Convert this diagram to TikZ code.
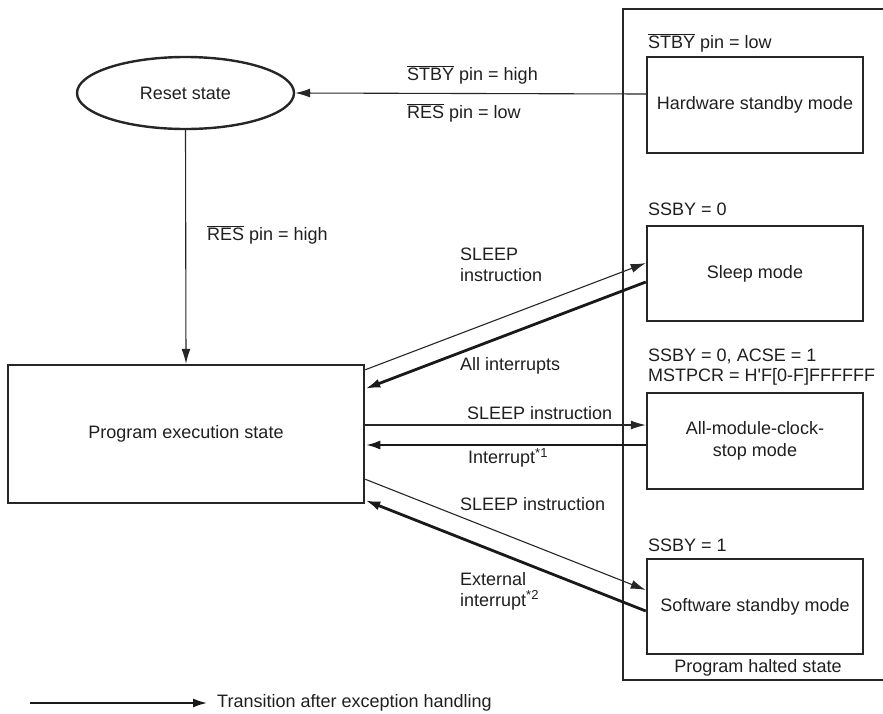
\documentclass[tikz,border=0pt]{standalone}
\usepackage{fontspec}
\setmainfont{Liberation Sans}
\usetikzlibrary{arrows.meta,shapes.geometric,calc}
\newcommand{\ovl}[1]{$\overline{\mbox{#1}}$}
\newcommand{\stsup}[1]{\textsuperscript{\fontsize{13}{14}\selectfont #1}}
\begin{document}
\begin{tikzpicture}[x=1pt,y=-1pt,
  every node/.style={font=\fontsize{18}{22}\selectfont, text=black!88},
  box/.style={draw=black!85, line width=2.5pt, rectangle, minimum width=216pt, inner sep=0pt},
  lbl/.style={anchor=west, inner sep=0pt, align=left},
  thin/.style={draw=black!85, line width=1.1pt, -{Latex[length=15pt,width=9pt]}},
  thick/.style={draw=black!90, line width=2.8pt, -{Latex[length=15pt,width=9pt]}}]
\useasboundingbox (0,0) rectangle (883,713);
% halted state container
\draw[black!85, line width=2.4pt] (884,9) -- (623,9) -- (623,680) -- (884,680);
\node[inner sep=0pt] (haltlbl) at (758,668) {Program halted state};

% nodes
\node[draw=black!85, line width=2.4pt, ellipse, minimum width=217pt, minimum height=72pt, inner sep=0pt] (reset) at (185.5,93) {Reset state};
\node[box, minimum width=356pt, minimum height=138pt] (prog) at (186,434) {Program execution state};
\node[box, minimum height=96pt] (hw) at (755,105) {Hardware standby mode};
\node[box, minimum height=95pt] (sleep) at (755,273.5) {Sleep mode};
\node[box, minimum height=96pt, align=center] (allm) at (755,441) {All-module-clock-\\stop mode};
\node[box, minimum height=95pt] (soft) at (755,606.5) {Software standby mode};

% condition labels in halted box
\node[lbl] (c1) at (648,43) {\ovl{STBY} pin = low};
\node[lbl] (c2) at (648,209) {SSBY = 0};
\node[lbl] (c3) at (648,356) {SSBY = 0, ACSE = 1};
\node[lbl] (c4) at (648,377) {MSTPCR = H\textquotesingle F[0-F]FFFFFF};
\node[lbl] (c5) at (648,545) {SSBY = 1};

% hw -> reset
\draw[thin] ([yshift=11pt]hw.west) -- (reset.east);
\node[lbl] (l1) at (407,75) {\ovl{STBY} pin = high};
\node[lbl] (l2) at (407,113) {\ovl{RES} pin = low};

% reset -> prog
\draw[thin] (reset.south) -- (prog.north);
\node[lbl] (l3) at (207,235) {\ovl{RES} pin = high};

% sleep
\draw[thin] ([yshift=-6pt]prog.north east) -- ([yshift=10.5pt]sleep.west);
\draw[thick] ([yshift=-8.5pt]sleep.west) -- ([yshift=-25pt]prog.north east);
\node[lbl] (l4) at (460,265) {SLEEP\\[-1pt]instruction};
\node[lbl] (l5) at (460,366) {All interrupts};

% all module
\draw[thin] (prog.east |- 0,425) coordinate (p1) -- (allm.west |- p1);
\draw[thick] (allm.west |- 0,445) coordinate (p2) -- (prog.east |- p2);
\node[lbl] (l6) at (467,413) {SLEEP instruction};
\node[lbl] (l7) at (468,458) {Interrupt\stsup{*1}};

% software standby
\draw[thin] ([yshift=25pt]prog.south east) -- ([yshift=16.5pt]soft.west);
\draw[thick] ([yshift=-4.5pt]soft.west) -- ([yshift=4pt]prog.south east);
\node[lbl] (l8) at (460,504) {SLEEP instruction};
\node[lbl] (l9) at (460,591) {External\\[-1pt]interrupt\stsup{*2}};

% legend
\coordinate (lg1) at (30,703);
\coordinate (lg2) at (208,703);
\draw[thick] (lg1) -- (lg2);
\node[lbl] (lg) at (217,703) {Transition after exception handling};
\end{tikzpicture}
\end{document}
